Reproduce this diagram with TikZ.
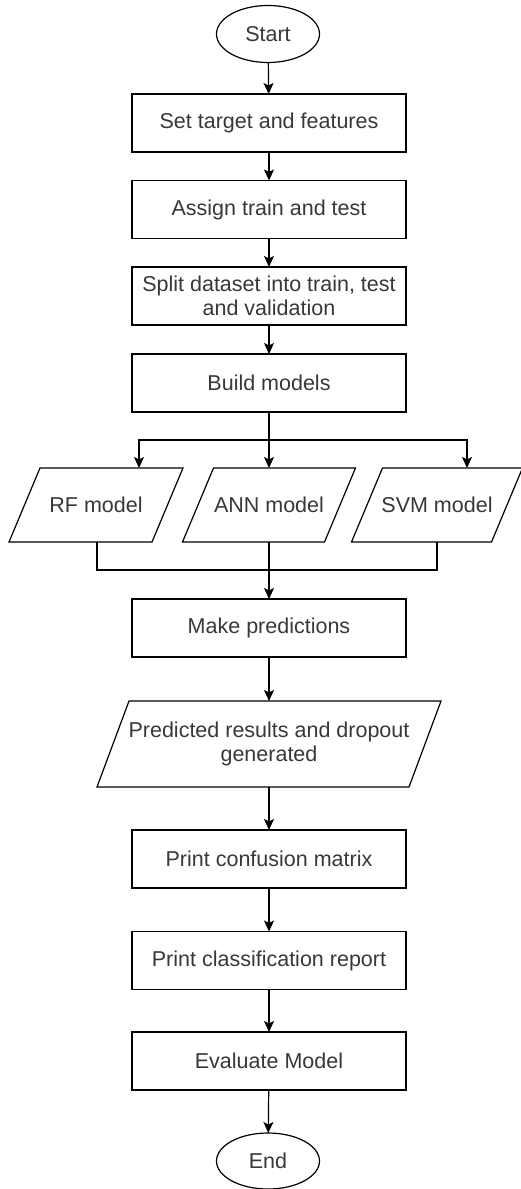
\documentclass[tikz,border=0pt]{standalone}
\usepackage{fontspec}
\setmainfont{Liberation Sans}
\usetikzlibrary{shapes.geometric,arrows.meta}

% Outline of a slanted (data) box drawn around a plain node
\newcommand{\slantbox}[2]{%
  \draw[edge] ([xshift=#2]#1.north west) -- ([xshift=#2]#1.north east)
    -- ([xshift=-#2]#1.south east) -- ([xshift=-#2]#1.south west) -- cycle;}

\begin{document}
\begin{tikzpicture}[x=1pt,y=-1pt,
  edge/.style={draw=black,line width=1.2pt,line join=miter},
  arr/.style={edge,-{Stealth[length=11pt,width=10pt,inset=2.5pt]}},
  txt/.style={text=black!78,font=\fontsize{21.5}{24.5}\selectfont,align=center,
              inner sep=0pt,outer sep=0pt},
  stepbox/.style={txt,edge,rectangle,minimum width=274pt,minimum height=58pt},
  terminal/.style={txt,edge,ellipse,minimum width=103pt,minimum height=57pt},
  iobox/.style={txt,rectangle,minimum height=74pt}]

\useasboundingbox (0,0) rectangle (520,1189);
\fill[white] (0,0) rectangle (520,1189);

% main column
\node[terminal] (start) at (268,34) {Start};
\node[stepbox] (target) at (269,123) {Set target and features};
\node[stepbox] (assign) at (269,209.5) {Assign train and test};
\node[stepbox] (split) at (269,296) {Split dataset into train, test\\and validation};
\node[stepbox] (build) at (269,383) {Build models};

% the three models
\node[iobox,minimum width=143pt] (rf) at (96,505) {RF model};
\node[iobox,minimum width=142pt] (ann) at (269,505) {ANN model};
\node[iobox,minimum width=140pt] (svm) at (437,505) {SVM model};
\slantbox{rf}{15.5pt}
\slantbox{ann}{15.5pt}
\slantbox{svm}{15.5pt}

\node[stepbox] (predict) at (269,628) {Make predictions};
\node[txt,rectangle,minimum width=312pt,minimum height=86pt] (results) at (269,744)
  {Predicted results and dropout\\generated};
\slantbox{results}{16pt}
\node[stepbox] (confusion) at (269,859) {Print confusion matrix};
\node[stepbox] (report) at (269,960.5) {Print classification report};
\node[stepbox] (evaluate) at (269,1061) {Evaluate Model};
\node[terminal,minimum height=56pt] (end) at (268,1161) {End};

% connectors
\coordinate (fork) at (269,440);
\coordinate (join) at (269,570);

\draw[arr] (start) -- (target);
\draw[arr] (target) -- (assign);
\draw[arr] (assign) -- (split);
\draw[arr] (split) -- (build);

\draw[edge] (build.south) -- (fork);
\draw[arr] (fork) -| ([xshift=43pt]rf.north);
\draw[arr] (fork) -- (ann.north);
\draw[arr] (fork) -| ([xshift=30pt]svm.north);

\draw[edge] ([xshift=1pt]rf.south) |- (join);
\draw[edge] (svm.south) |- (join);
\draw[edge] (ann.south) -- (join);
\draw[arr] (join) -- (predict.north);

\draw[arr] (predict) -- (results);
\draw[arr] (results) -- (confusion);
\draw[arr] (confusion) -- (report);
\draw[arr] (report) -- (evaluate);
\draw[arr] (evaluate) -- (end);
\end{tikzpicture}
\end{document}
